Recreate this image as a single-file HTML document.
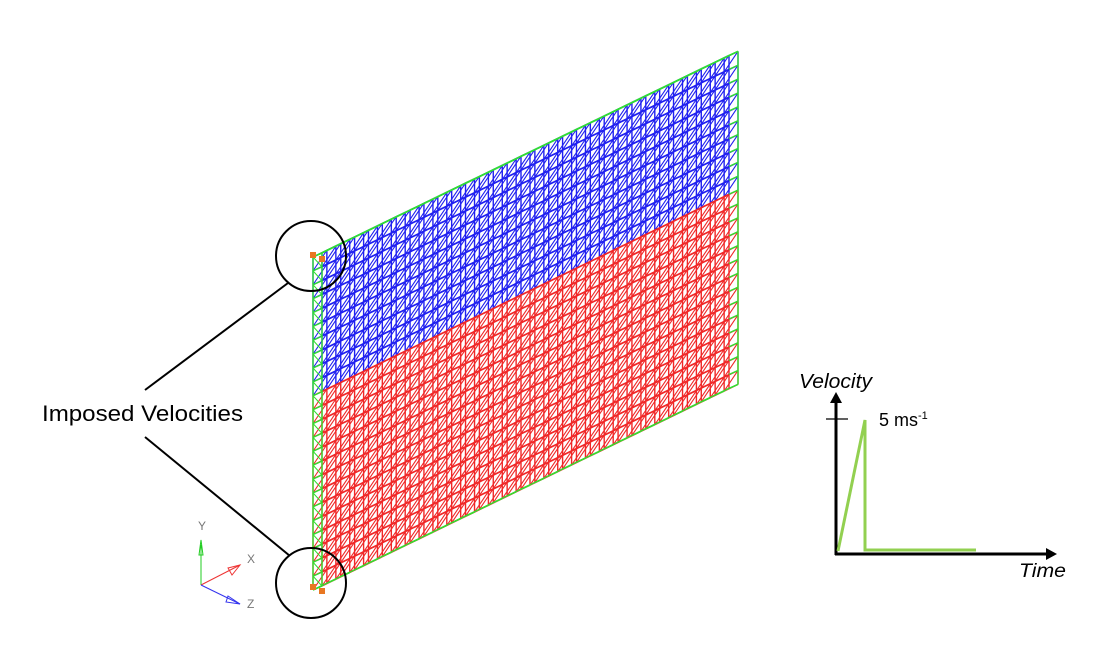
<!DOCTYPE html>
<html><head><meta charset="utf-8"><style>
html,body{margin:0;padding:0;background:#fff;}
svg{display:block}
text{font-family:"Liberation Sans",sans-serif}
</style></head><body>
<svg id="s" width="1100" height="654" viewBox="0 0 1100 654" xmlns="http://www.w3.org/2000/svg">
<g id="mesh"></g>
<rect x="310" y="252" width="6" height="6" fill="#e87722"/>
<rect x="319" y="256" width="6" height="6" fill="#e87722"/>
<rect x="310" y="584" width="6" height="6" fill="#e87722"/>
<rect x="319" y="588" width="6" height="6" fill="#e87722"/>
<circle cx="311" cy="256" r="35" fill="none" stroke="#000" stroke-width="2"/>
<circle cx="311" cy="583" r="35" fill="none" stroke="#000" stroke-width="2"/>
<line x1="145" y1="390" x2="288" y2="283" stroke="#000" stroke-width="2"/>
<line x1="145" y1="437" x2="290" y2="556" stroke="#000" stroke-width="2"/>
<text x="42" y="421" font-size="22" textLength="201" lengthAdjust="spacingAndGlyphs">Imposed Velocities</text>
<line x1="201" y1="585" x2="201" y2="545" stroke="#2c2" stroke-width="1"/>
<path d="M199 555 L201 540 L203 555 Z" fill="none" stroke="#2c2"/>
<text x="198" y="530" font-size="12" fill="#777">Y</text>
<line x1="201" y1="585" x2="240" y2="565" stroke="#e33" stroke-width="1"/>
<path d="M228 568 L240 565 L232 575 Z" fill="none" stroke="#e33"/>
<text x="247" y="563" font-size="12" fill="#777">X</text>
<line x1="201" y1="585" x2="240" y2="604" stroke="#33e" stroke-width="1"/>
<path d="M228 596 L240 604 L226 602 Z" fill="none" stroke="#33e"/>
<text x="247" y="608" font-size="12" fill="#777">Z</text>
<line x1="836" y1="555" x2="836" y2="400" stroke="#000" stroke-width="3"/>
<path d="M830 403 L836 392 L842 403 Z" fill="#000"/>
<line x1="835" y1="554" x2="1048" y2="554" stroke="#000" stroke-width="3"/>
<path d="M1046 548 L1057 554 L1046 560 Z" fill="#000"/>
<line x1="826" y1="419" x2="848" y2="419" stroke="#000" stroke-width="1.2"/>
<polyline points="838,551 865,420 865,550 976,550" fill="none" stroke="#92d050" stroke-width="3"/>
<text x="799" y="388" font-size="20" font-style="italic" textLength="73" lengthAdjust="spacingAndGlyphs">Velocity</text>
<text x="1019" y="577" font-size="19" font-style="italic" textLength="47" lengthAdjust="spacingAndGlyphs">Time</text>
<text x="879" y="426" font-size="18">5 ms<tspan font-size="11" dy="-7">-1</tspan></text>
</svg>
<script>
(function(){
var g=document.getElementById('mesh');var NS='http://www.w3.org/2000/svg';
var x0=313,y0=257,W=416,H=333,cols=30,rows=24,sh=-206/425;
var cw=W/cols,rh=H/rows,dx=9,dy=-4,blueRows=10;
function P(i,j,l){var x=x0+i*cw;var y=y0+(i*cw)*sh + j*rh;return [x+(l?dx:0),y+(l?dy:0)];}
function L(a,b,c,w){var e=document.createElementNS(NS,'line');e.setAttribute('x1',a[0]);e.setAttribute('y1',a[1]);e.setAttribute('x2',b[0]);e.setAttribute('y2',b[1]);e.setAttribute('stroke',c);e.setAttribute('stroke-width',w||1.4);g.appendChild(e);}
function col(j){return j<blueRows?'#2020f0':'#f02828';}
var G='#30e030';
for(var l=1;l>=0;l--){
 for(var j=0;j<rows;j++)for(var i=0;i<cols;i++){
  var c=col(j);
  L(P(i,j,l),P(i+1,j,l),c);
  L(P(i,j,l),P(i,j+1,l),c);
  L(P(i,j+1,l),P(i+1,j,l),c,1.1);
 }
 for(var i=0;i<cols;i++)L(P(i,rows,l),P(i+1,rows,l),'#f02828');
 for(var j=0;j<rows;j++)L(P(cols,j,l),P(cols,j+1,l),col(j));
}
for(var i=0;i<=cols;i++){L(P(i,0,0),P(i,0,1),G);L(P(i,rows,0),P(i,rows,1),G);}
for(var j=0;j<=rows;j++){L(P(0,j,0),P(0,j,1),G);L(P(cols,j,0),P(cols,j,1),G);}
for(var i=0;i<cols;i++){L(P(i,0,0),P(i+1,0,0),G);L(P(i,0,1),P(i+1,0,1),G);L(P(i,rows,0),P(i+1,rows,0),G);}
for(var j=0;j<rows;j++){L(P(0,j,0),P(0,j+1,0),G);L(P(0,j,1),P(0,j+1,1),G);L(P(cols,j,1),P(cols,j+1,1),G);L(P(0,j,0),P(0,j+1,1),G,1);}
for(var i=0;i<cols;i++){L(P(i,0,0),P(i+1,0,1),G,1);}
})();
</script>
</body></html>
